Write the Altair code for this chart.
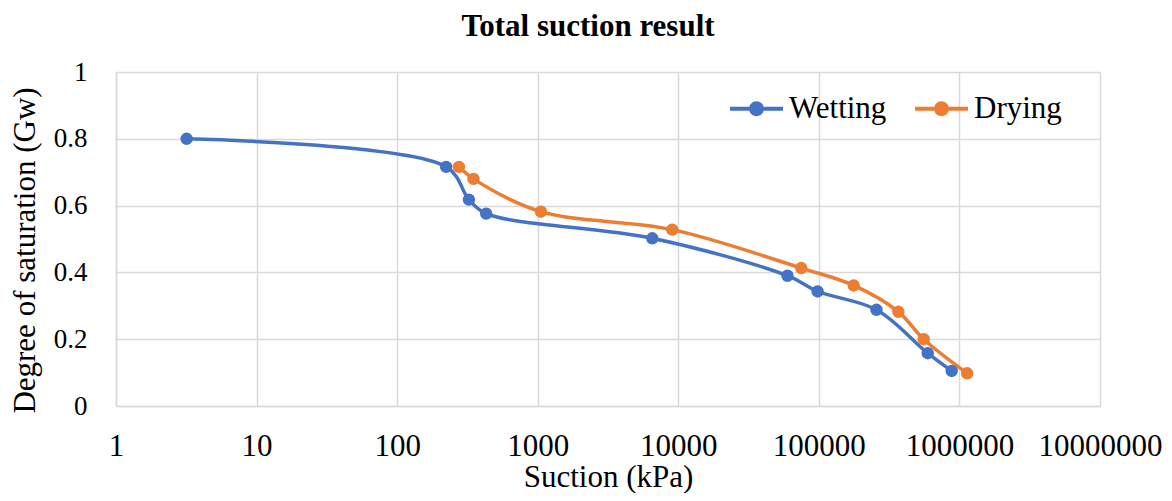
import altair as alt
import pandas as pd

series_names = ["Wetting", "Drying"]
series_colors = ["#4472C4", "#ED7D31"]

wetting_suction = [3.18, 223, 324, 430, 6530, 59800, 98000, 257000, 595000, 881000]
wetting_sat = [0.80, 0.716, 0.618, 0.576, 0.502, 0.390, 0.343, 0.288, 0.158, 0.105]

drying_suction = [275, 349, 1054, 9060, 75000, 177000, 368000, 557000, 1135000]
drying_sat = [0.716, 0.680, 0.582, 0.528, 0.413, 0.361, 0.282, 0.200, 0.098]

x_ticks = [1, 10, 100, 1000, 10000, 100000, 1000000, 10000000]
y_ticks = [0, 0.2, 0.4, 0.6, 0.8, 1.0]

rows = []
for i, (s, v) in enumerate(zip(wetting_suction, wetting_sat)):
    rows.append({"series": "Wetting", "suction": s, "sat": v, "idx": i})
for i, (s, v) in enumerate(zip(drying_suction, drying_sat)):
    rows.append({"series": "Drying", "suction": s, "sat": v, "idx": i})
df = pd.DataFrame(rows)

FONT = "Liberation Serif"

x_enc = alt.X(
    "suction:Q",
    scale=alt.Scale(type="log", domain=[1, 10000000], nice=False),
    axis=alt.Axis(
        values=x_ticks,
        format="d",
        title="Suction (kPa)",
        titleX=492,
        titleY=80,
        titleBaseline="alphabetic",
        labelBaseline="alphabetic",
        labelPadding=49,
        labelFont=FONT,
        labelFontSize=31,
    ),
)
y_enc = alt.Y(
    "sat:Q",
    scale=alt.Scale(domain=[0, 1], nice=False),
    axis=alt.Axis(
        values=y_ticks,
        format="~g",
        title="Degree of saturation (Gw)",
        titleAngle=270,
        titleX=-82,
        titleY=178,
        titleBaseline="alphabetic",
        labelPadding=29,
        labelFont=FONT,
        labelFontSize=27,
    ),
)

color_scale = alt.Scale(domain=series_names, range=series_colors)

line_layers = []
for name, col in zip(series_names, series_colors):
    line_layers.append(
        alt.Chart(df)
        .transform_filter(alt.datum.series == name)
        .mark_line(strokeWidth=3.5, interpolate="catmull-rom", color=col)
        .encode(x=x_enc, y=y_enc, order="idx:Q")
    )

legend_path = (
    "M-1,-0.075L-0.25,-0.075L-0.25,0.075L-1,0.075Z"
    "M0.25,-0.075L1,-0.075L1,0.075L0.25,0.075Z"
    "M-0.28,0A0.28,0.28,0,1,1,0.28,0A0.28,0.28,0,1,1,-0.28,0Z"
)

points = alt.Chart(df).mark_circle(size=154, opacity=1).encode(
    x=x_enc,
    y=y_enc,
    color=alt.Color(
        "series:N",
        scale=color_scale,
        legend=alt.Legend(
            title=None,
            orient="none",
            legendX=614,
            legendY=10,
            direction="horizontal",
            columns=2,
            symbolType=legend_path,
            symbolSize=2809,
            symbolStrokeWidth=0,
            symbolOpacity=1,
            labelOffset=6,
            labelLimit=300,
            columnPadding=28,
            padding=0,
        ),
    ),
)

chart = (
    alt.layer(*line_layers, points)
    .properties(
        width=984,
        height=334,
        background="#ffffff",
        title=alt.TitleParams(
            "Total suction result",
            font=FONT,
            fontSize=31,
            fontWeight="bold",
            color="#000000",
            anchor="middle",
            frame="group",
            baseline="alphabetic",
            offset=-9,
            dx=-20,
        ),
        autosize=alt.AutoSizeParams(type="none"),
        padding={"left": 108, "top": 64, "right": 64, "bottom": 87},
    )
    .configure_view(stroke=None)
    .configure_axis(
        labelFont=FONT,
        labelColor="#000000",
        labelFlush=False,
        labelOverlap=False,
        titleFont=FONT,
        titleFontSize=31,
        titleFontWeight="normal",
        titleColor="#000000",
        ticks=False,
        domainColor="#d9d9d9",
        domainWidth=1.5,
        gridColor="#d9d9d9",
        gridWidth=1.5,
    )
    .configure_axisY(labelPadding=29, labelFont=FONT)
    .configure_axisX(labelFont=FONT)
    .configure_legend(
        labelFont=FONT,
        labelFontSize=31,
        labelColor="#000000",
    )
)

chart.save("out.html", embed_options={"renderer": "svg", "actions": False})
